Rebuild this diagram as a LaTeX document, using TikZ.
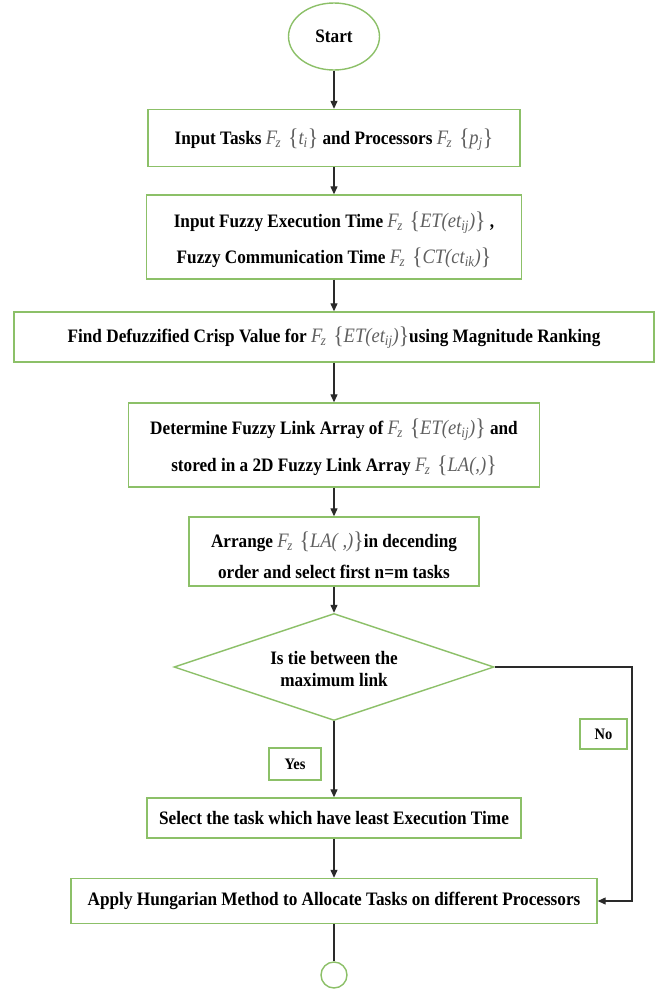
\documentclass[tikz,border=0pt]{standalone}
\usepackage{fontspec}
\setmainfont{Liberation Serif}[FakeStretch=0.905]
\usetikzlibrary{arrows.meta,shapes.geometric}
\definecolor{boxgreen}{HTML}{8CC068}
\definecolor{mathc}{HTML}{606060}
\definecolor{linec}{HTML}{2A2A2A}
\newcommand{\lbr}{{\fontsize{24}{35}\selectfont\upshape\raisebox{-1pt}{\{}}}
\newcommand{\rbr}{{\fontsize{24}{35}\selectfont\upshape\raisebox{-1pt}{\}}}}
\newcommand{\Fz}[1]{{\color{mathc}\mdseries\itshape\fontsize{20.5}{35}\selectfont F\textsubscript{\kern-1.5pt z}\,\,\lbr#1\rbr}}
\newcommand{\sbs}[1]{\textsubscript{#1}}
\tikzset{
  x=1pt, y=-1pt,
  txt/.style={font=\fontsize{19}{35}\selectfont\bfseries, align=center, text=black},
  procbox/.style={txt, draw=boxgreen, line width=1.4pt, rectangle, inner sep=0pt},
  labbox/.style={procbox, font=\fontsize{16}{18}\selectfont\bfseries},
  conn/.style={draw=linec, line width=1.2pt},
  arr/.style={conn, -{Triangle[length=8pt,width=7pt]}},
}
\begin{document}
\begin{tikzpicture}
\useasboundingbox (0,0) rectangle (661,989);
\fill[white] (0,0) rectangle (661,989);

\node[procbox, ellipse, minimum width=91pt, minimum height=67pt] (start) at (334,36.5) {Start};

\node[procbox, minimum width=372pt, minimum height=57pt] (b1) at (334,138) {};
\node[txt] (t1) at (334,140)
  {Input Tasks \Fz{t\sbs{i}} and Processors \Fz{p\sbs{j}}};

\node[procbox, minimum width=375pt, minimum height=84pt] (b2) at (334,237) {};
\node[txt, font=\fontsize{19}{36}\selectfont\bfseries] (t2) at (334,240)
  {Input Fuzzy Execution Time \Fz{ET(et\sbs{ij})} ,\\
   Fuzzy Communication Time \Fz{CT(ct\sbs{ik})}};

\node[procbox, minimum width=640pt, minimum height=50pt] (b3) at (334,337) {};
\node[txt] (t3) at (334,338)
  {Find Defuzzified Crisp Value for \Fz{ET(et\sbs{ij})}using Magnitude Ranking};

\node[procbox, minimum width=411pt, minimum height=84pt] (b4) at (334,445) {};
\node[txt, font=\fontsize{19}{37}\selectfont\bfseries] (t4) at (334,447)
  {Determine Fuzzy Link Array of \Fz{ET(et\sbs{ij})} and\\
   stored in a 2D Fuzzy Link Array \Fz{LA(,)}};

\node[procbox, minimum width=290pt, minimum height=69pt] (b5) at (334,551.5) {};
\node[txt, font=\fontsize{19}{31}\selectfont\bfseries] (t5) at (334,555)
  {Arrange \Fz{LA( ,)}in decending\\
   order and select first n=m tasks};

\node[procbox, diamond, aspect=3, minimum width=320pt, minimum height=107pt, inner sep=0pt] (dia) at (334,667) {};
\node[txt, font=\fontsize{19}{22}\selectfont\bfseries] (diat) at (334,669) {Is tie between the\\ maximum link};

\node[labbox, minimum width=52pt, minimum height=32pt] (yes) at (295,764) {Yes};
\node[labbox, minimum width=47pt, minimum height=30pt] (no) at (603.5,734) {No};

\node[procbox, minimum width=374pt, minimum height=40pt] (b6) at (334,818)
  {Select the task which have least Execution Time};

\node[procbox, minimum width=526pt, minimum height=45pt] (b7) at (334,901)
  {Apply Hungarian Method to Allocate Tasks on different Processors};

\node[procbox, circle, minimum size=26pt] (end) at (334,975) {};

\coordinate (rt) at (632,667);

\draw[arr] (start) -- (b1);
\draw[arr] (b1) -- (b2);
\draw[arr] (b2) -- (b3);
\draw[arr] (b3) -- (b4);
\draw[arr] (b4) -- (b5);
\draw[arr] (b5) -- (dia);
\draw[arr] (dia) -- (b6);
\draw[arr] (b6) -- (b7);
\draw[conn] (b7) -- (end);
\draw[arr] (dia.east) -- (rt) -- (rt |- b7.east) -- (b7.east);
\end{tikzpicture}
\end{document}
